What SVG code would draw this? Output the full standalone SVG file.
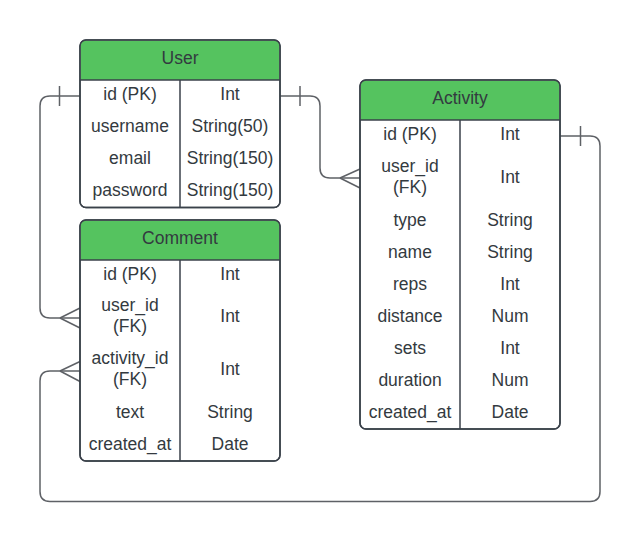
<svg xmlns="http://www.w3.org/2000/svg" width="641" height="542" viewBox="0 0 641 542">
<defs>
<style>
.box{fill:#ffffff;stroke:#3a414a;stroke-width:1.5}
.hdr{fill:#55c35f;stroke:none}
.ln{stroke:#3a414a;stroke-width:1.5;fill:none}
.con{stroke:#5e6166;stroke-width:1.5;fill:none}
text{font-family:"Liberation Sans",Arial,sans-serif;font-size:17.5px;fill:#333a40;text-anchor:middle}
</style>
</defs>
<rect width="641" height="542" fill="#ffffff"/>
<g id="connectors">
<path class="con" d="M80,96 H50 Q40,96 40,106 V308 Q40,318 50,318 H80"/>
<path class="con" d="M59.5,86 V106"/>
<path class="con" d="M60,318 L80,308 M60,318 L80,328"/>
<path class="con" d="M280,96 H310 Q320,96 320,106 V168 Q320,178 330,178 H360"/>
<path class="con" d="M300,86 V106"/>
<path class="con" d="M340,178 L360,169 M340,178 L360,188"/>
<path class="con" d="M560,136 H590 Q600,136 600,146 V491.5 Q600,501.5 590,501.5 H50 Q40,501.5 40,491.5 V381 Q40,371 50,371 H80"/>
<path class="con" d="M580.5,126 V146"/>
<path class="con" d="M60,371 L80,361.5 M60,371 L80,381.5"/>
</g>
<g id="user">
<rect class="box" x="80" y="40" width="200" height="167.5" rx="6"/>
<path class="hdr" d="M80.75,80 V46 Q80.75,40.75 86,40.75 H274 Q279.25,40.75 279.25,46 V80 Z"/>
<rect x="80" y="40" width="200" height="167.5" rx="6" fill="none" stroke="#3a414a" stroke-width="1.5"/>
<line class="ln" x1="80" y1="80" x2="280" y2="80"/>
<line class="ln" x1="180" y1="80" x2="180" y2="207.5"/>
<text x="180" y="63.5">User</text>
<text x="130" y="100">id (PK)</text><text x="230" y="100">Int</text>
<text x="130" y="132">username</text><text x="230" y="132">String(50)</text>
<text x="130" y="164">email</text><text x="230" y="164">String(150)</text>
<text x="130" y="196">password</text><text x="230" y="196">String(150)</text>
</g>
<g id="comment">
<rect class="box" x="80" y="220" width="200" height="241" rx="6"/>
<path class="hdr" d="M80.75,260 V226 Q80.75,220.75 86,220.75 H274 Q279.25,220.75 279.25,226 V260 Z"/>
<rect x="80" y="220" width="200" height="241" rx="6" fill="none" stroke="#3a414a" stroke-width="1.5"/>
<line class="ln" x1="80" y1="260" x2="280" y2="260"/>
<line class="ln" x1="180" y1="260" x2="180" y2="461"/>
<text x="180" y="243.5">Comment</text>
<text x="130" y="280">id (PK)</text><text x="230" y="280">Int</text>
<text x="130" y="311">user_id</text><text x="130" y="332">(FK)</text><text x="230" y="322">Int</text>
<text x="130" y="364">activity_id</text><text x="130" y="385">(FK)</text><text x="230" y="375">Int</text>
<text x="130" y="418">text</text><text x="230" y="418">String</text>
<text x="130" y="450">created_at</text><text x="230" y="450">Date</text>
</g>
<g id="activity">
<rect class="box" x="360" y="80" width="200" height="349" rx="6"/>
<path class="hdr" d="M360.75,120 V86 Q360.75,80.75 366,80.75 H554 Q559.25,80.75 559.25,86 V120 Z"/>
<rect x="360" y="80" width="200" height="349" rx="6" fill="none" stroke="#3a414a" stroke-width="1.5"/>
<line class="ln" x1="360" y1="120" x2="560" y2="120"/>
<line class="ln" x1="460" y1="120" x2="460" y2="429"/>
<text x="460" y="103.5">Activity</text>
<text x="410" y="140">id (PK)</text><text x="510" y="140">Int</text>
<text x="410" y="172">user_id</text><text x="410" y="193">(FK)</text><text x="510" y="183">Int</text>
<text x="410" y="226">type</text><text x="510" y="226">String</text>
<text x="410" y="258">name</text><text x="510" y="258">String</text>
<text x="410" y="290">reps</text><text x="510" y="290">Int</text>
<text x="410" y="322">distance</text><text x="510" y="322">Num</text>
<text x="410" y="354">sets</text><text x="510" y="354">Int</text>
<text x="410" y="386">duration</text><text x="510" y="386">Num</text>
<text x="410" y="418">created_at</text><text x="510" y="418">Date</text>
</g>
</svg>
